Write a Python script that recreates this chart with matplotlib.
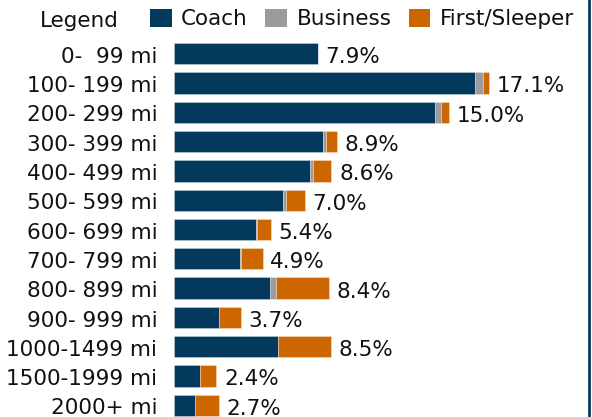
import matplotlib
matplotlib.use("Agg")
import matplotlib.pyplot as plt
import matplotlib.transforms as mtransforms
from matplotlib.patches import Patch
from matplotlib.lines import Line2D

categories = ["0-  99 mi", "100- 199 mi", "200- 299 mi", "300- 399 mi", "400- 499 mi",
              "500- 599 mi", "600- 699 mi", "700- 799 mi", "800- 899 mi", "900- 999 mi",
              "1000-1499 mi", "1500-1999 mi", "2000+ mi"]
coach = [7.87, 16.45, 14.26, 8.16, 7.43, 5.97, 4.48, 3.62, 5.25, 2.48, 5.68, 1.44, 1.16]
business = [0.0, 0.45, 0.31, 0.15, 0.15, 0.13, 0.03, 0.03, 0.31, 0.0, 0.0, 0.0, 0.0]
first = [0.0, 0.31, 0.44, 0.58, 1.02, 1.04, 0.77, 1.19, 2.90, 1.17, 2.90, 0.87, 1.31]
pct_labels = [7.9, 17.1, 15.0, 8.9, 8.6, 7.0, 5.4, 4.9, 8.4, 3.7, 8.5, 2.4, 2.7]
series_names = ["Coach", "Business", "First/Sleeper"]

C_COACH = "#03395c"
C_BUS = "#9b9b9b"
C_FIRST = "#cc6600"
TXT = "#111111"
FS = 15.5

W, H = 592, 417
fig = plt.figure(figsize=(W / 100, H / 100), dpi=100)
ax = fig.add_axes([174 / W, 0, (588 - 174) / W, 1])

y = list(range(len(categories)))
left2 = [c + b for c, b in zip(coach, business)]
totals = [c + b + f for c, b, f in zip(coach, business, first)]
kw = dict(height=0.73, edgecolor=(1, 1, 1, 0.35), linewidth=0.6)
ax.barh(y, coach, color=C_COACH, **kw)
ax.barh(y, business, left=coach, color=C_BUS, **kw)
ax.barh(y, first, left=left2, color=C_FIRST, **kw)

for yi, t, lab in zip(y, totals, pct_labels):
    ax.annotate(f"{lab:.1f}%", (t, yi), xytext=(5.5, -6.8), textcoords="offset points",
                ha="left", va="baseline", fontsize=FS, color=TXT)

ax.set_xlim(0, (588 - 174) / 18.3)
ax.set_ylim(12.40, -1.833)
ax.set_yticks(y)
ax.set_yticklabels(categories, fontsize=FS, color=TXT)
ax.tick_params(axis="y", length=0, pad=12)
shift = mtransforms.ScaledTranslation(0, -1.2 / 100, fig.dpi_scale_trans)
for lbl in ax.get_yticklabels():
    lbl.set_transform(lbl.get_transform() + shift)
ax.set_xticks([])
for s in ax.spines.values():
    s.set_visible(False)

handles = [Patch(facecolor=c) for c in (C_COACH, C_BUS, C_FIRST)]
fig.text(79 / W, 1 - 21 / H, "Legend", ha="center", va="center", fontsize=FS, color=TXT)
leg = fig.legend(handles, series_names, ncol=3, loc="center left",
                 bbox_to_anchor=(150 / W, 1 - 19 / H), frameon=False, fontsize=FS,
                 handlelength=1.0, handleheight=0.95, handletextpad=0.45,
                 columnspacing=0.8, borderpad=0, borderaxespad=0)
for t in leg.get_texts():
    t.set_color(TXT)

fig.add_artist(Line2D([589 / W, 589 / W], [0, 1], transform=fig.transFigure,
                      color="#0b3a5e", lw=2))

fig.savefig("out.png", dpi=100)
